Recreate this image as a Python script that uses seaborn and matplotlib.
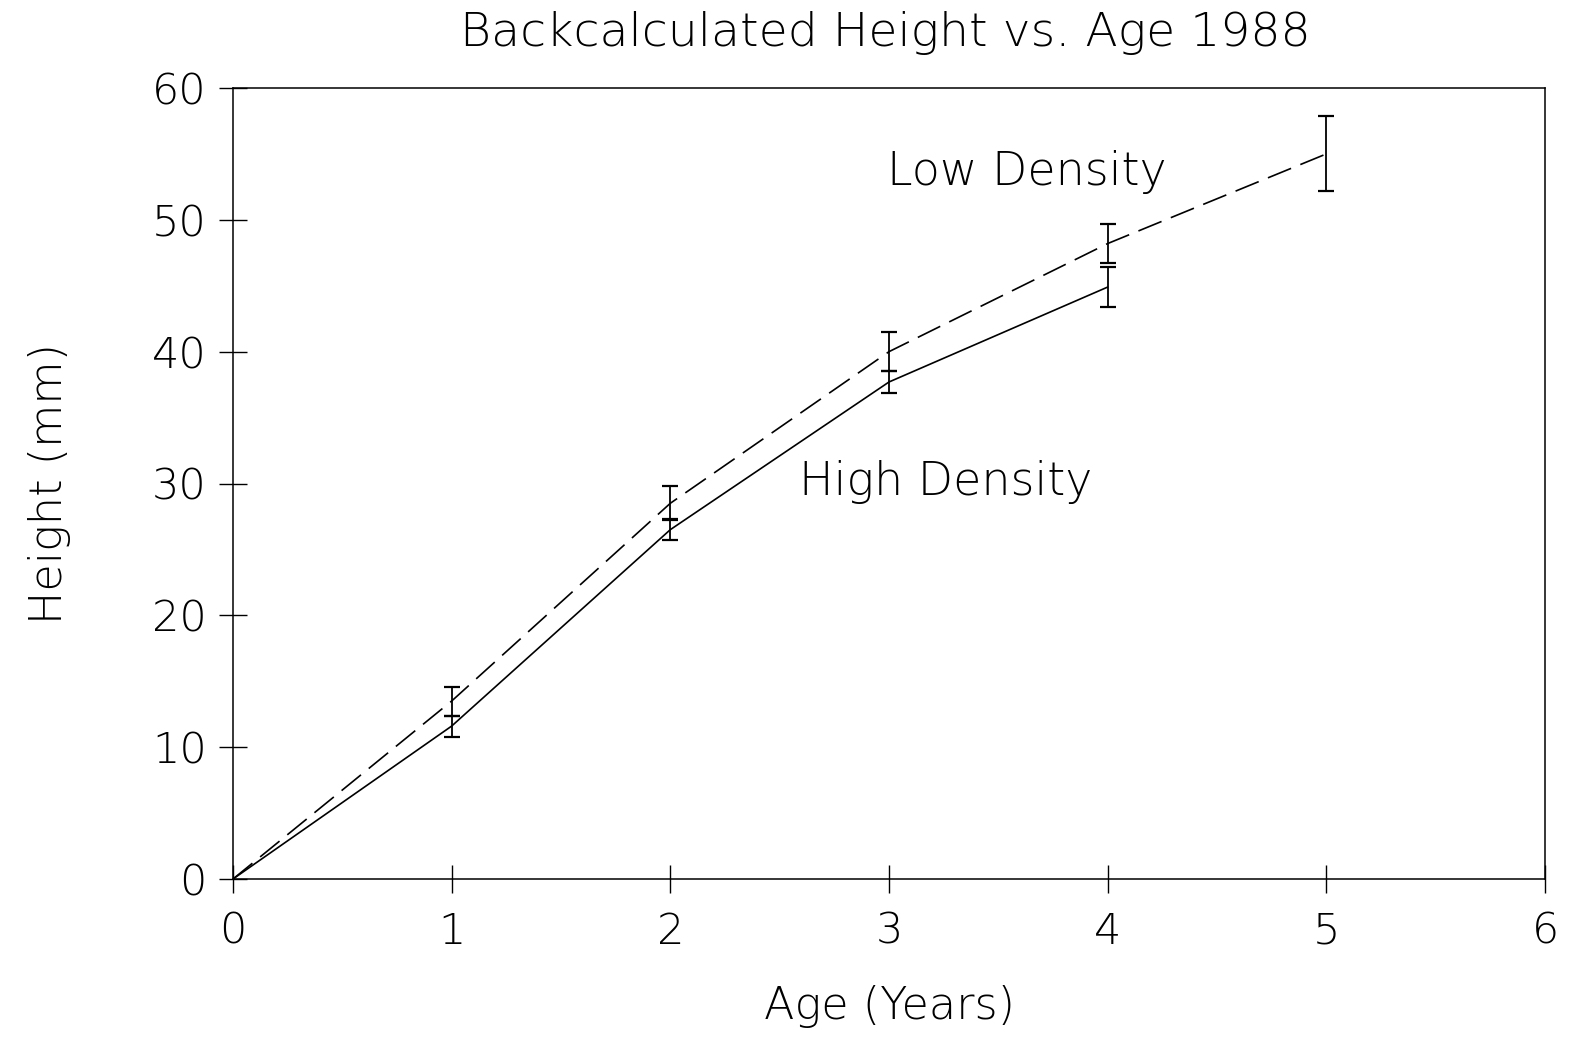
import numpy as np
import pandas as pd
import seaborn as sns
import matplotlib.pyplot as plt

age = [0, 1, 2, 3, 4, 5]
low_height = [0, 13.5, 28.5, 40.0, 48.2, 55.0]
low_err = [0, 1.1, 1.3, 1.5, 1.5, 2.85]

age_high = [0, 1, 2, 3, 4]
high_height = [0, 11.6, 26.5, 37.7, 44.9]
high_err = [0, 0.8, 0.8, 0.8, 1.5]

sns.set_theme(style="white")
plt.rcParams['font.family'] = ['DejaVu Sans']
plt.rcParams['font.weight'] = 'light'
plt.rcParams['axes.labelweight'] = 'light'
for k in ['text.color', 'axes.labelcolor', 'xtick.color', 'ytick.color']:
    plt.rcParams[k] = 'black'

df_low = pd.DataFrame({'age': age, 'height': low_height})
df_high = pd.DataFrame({'age': age_high, 'height': high_height})

fig = plt.figure(figsize=(15.77, 10.44), dpi=100)
ax = fig.add_axes([233/1577, 1 - 879/1044, (1545-233)/1577, (879-88)/1044])

sns.lineplot(data=df_low, x='age', y='height', ax=ax, color='black', lw=1.2, linestyle=(0, (15, 6)))
sns.lineplot(data=df_high, x='age', y='height', ax=ax, color='black', lw=1.2)
ax.errorbar(age[1:], low_height[1:], yerr=low_err[1:], fmt='none', ecolor='black', elinewidth=1.3, capsize=5.5, capthick=1.6)
ax.errorbar(age_high[1:], high_height[1:], yerr=high_err[1:], fmt='none', ecolor='black', elinewidth=1.3, capsize=5.5, capthick=1.6)

ax.set_xlim(0, 6)
ax.set_ylim(0, 60)
ax.set_xticks(range(0, 7))
ax.set_yticks(range(0, 61, 10))
ax.tick_params(axis='both', direction='inout', length=20, width=1, labelsize=31, left=True, bottom=True)
ax.tick_params(axis='x', pad=13)
ax.tick_params(axis='y', pad=9)
for s in ax.spines.values():
    s.set_color('black')
    s.set_linewidth(1.1)

ax.set_xlabel('Age (Years)', fontsize=32, labelpad=24)
ax.set_ylabel('Height (mm)', fontsize=32, labelpad=58)
fig.text(885/1577, 1 - 33/1044, 'Backcalculated Height vs. Age 1988', fontsize=34, ha='center', va='center')

ax.text(3.63, 53.6, 'Low Density', fontsize=33, ha='center', va='center')
ax.text(3.26, 30.1, 'High Density', fontsize=33, ha='center', va='center')

plt.savefig('out.png', dpi=100)
